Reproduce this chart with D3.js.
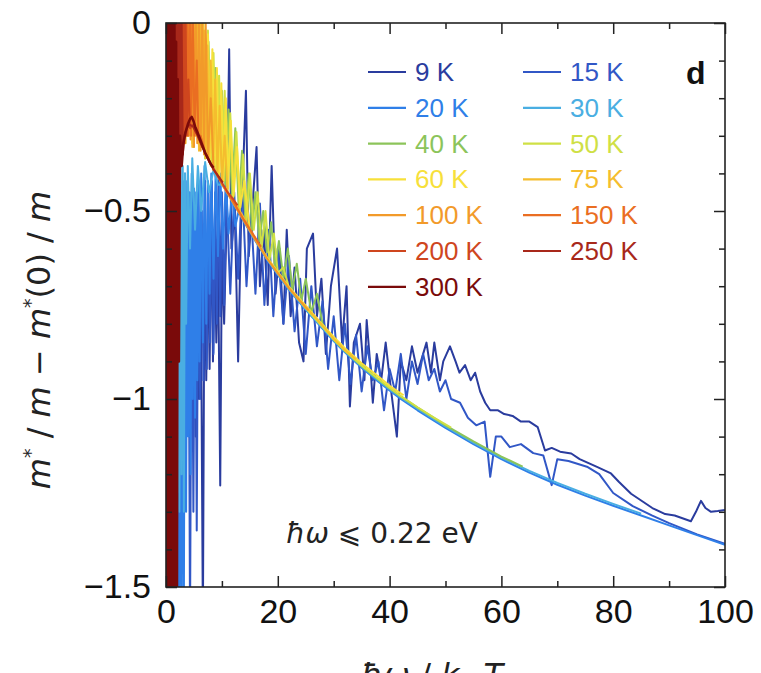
<!DOCTYPE html>
<html><head><meta charset="utf-8">
<script src="https://cdn.jsdelivr.net/npm/d3@7"></script>
<style>body{margin:0;background:#fff}svg{display:block}</style>
</head><body><svg id="c" width="761" height="673"></svg>
<script>
// Effective-mass renormalisation versus reduced frequency, one curve per temperature
const temps = [9, 15, 20, 30, 40, 50, 60, 75, 100, 150, 200, 250, 300];
const lineColors = ["#2a3c9e", "#3157c6", "#2f7fe8", "#4aaee2", "#8cc45a", "#cfe045", "#f7e03a",
                    "#f5bd2e", "#f29a2a", "#ea6e22", "#cf461e", "#a8281a", "#7a0a0a"];
const xTicks = [0, 20, 40, 60, 80, 100];
const yTicks = [0, -0.5, -1, -1.5];

// [ħω/kBT, m*/m − m*(0)/m]
const s9K = [[5.0,-0.6],[5.3,-1.1],[5.6,-0.55],[5.9,-1.0],[6.2,-0.6],[6.6,-1.6],[6.9,-0.55],[7.2,-0.95],[7.5,-0.6],[7.8,-0.92],[8.1,-0.5],[8.4,-0.9],[8.7,-0.55],[9.0,-0.85],[9.3,-0.6],[9.7,-1.23],[10.0,-0.6],[10.4,-0.8],[10.8,-0.55],[11.3,-0.07],[11.7,-0.6],[12.3,-0.5],[12.9,-0.9],[13.4,-0.55],[14.3,-0.18],[14.8,-0.62],[15.4,-0.5],[16.2,-0.33],[16.8,-0.7],[17.5,-0.55],[18.2,-0.75],[18.9,-0.38],[19.6,-0.72],[20.3,-0.6],[21.0,-0.8],[21.6,-0.55],[22.3,-0.78],[23.0,-0.65],[23.8,-0.85],[24.6,-0.9],[25.2,-0.6],[26.3,-0.56],[27.0,-0.78],[27.8,-0.68],[28.6,-0.88],[29.5,-0.7],[30.6,-0.6],[31.5,-0.85],[32.3,-0.7],[32.9,-1.02],[33.6,-0.85],[34.7,-0.8],[35.5,-0.95],[35.9,-0.79],[36.6,-0.92],[37.0,-1.01],[37.7,-0.88],[38.5,-0.95],[39.3,-0.85],[40.2,-0.97],[41.3,-1.10],[42.0,-0.9],[43.0,-0.95],[44.0,-0.86],[45.0,-0.93],[46.0,-0.88],[46.6,-0.85],[47.4,-0.93],[48.0,-0.85],[49.0,-0.95],[49.6,-0.90],[50.8,-0.86],[51.8,-0.9],[52.5,-0.93],[53.5,-0.91],[54.5,-0.95],[55.3,-0.93],[56.2,-0.98],[57.1,-1.01],[58.0,-1.03],[59.4,-1.03],[60.5,-1.04],[62,-1.045],[63.5,-1.06],[65,-1.06],[66.5,-1.075],[67.8,-1.137],[69,-1.13],[70.5,-1.14],[72.5,-1.145],[74,-1.16],[75.5,-1.17],[77,-1.18],[79.6,-1.198],[81,-1.22],[83.2,-1.252],[85,-1.27],[87,-1.29],[89.3,-1.306],[91,-1.31],[93.9,-1.325],[94.8,-1.30],[95.7,-1.271],[96.5,-1.29],[97.5,-1.30],[98.7,-1.298],[100,-1.295]];
const s15K = [[4.0,-0.5],[4.3,-1.6],[4.6,-0.55],[4.9,-1.3],[5.2,-0.5],[5.5,-1.35],[5.8,-0.45],[6.1,-1.0],[6.4,-0.5],[6.7,-0.95],[7.0,-0.42],[7.3,-0.92],[7.6,-0.45],[7.9,-0.85],[8.2,-0.42],[8.5,-0.88],[8.8,-0.45],[9.1,-0.8],[9.4,-0.4],[9.7,-0.78],[10.0,-0.45],[10.4,-0.75],[10.8,-0.45],[11.5,-0.72],[12.2,-0.45],[12.9,-0.68],[13.6,-0.42],[14.4,-0.7],[15.2,-0.5],[16.0,-0.72],[16.8,-0.48],[17.6,-0.75],[18.4,-0.55],[19.2,-0.78],[20.0,-0.6],[21.0,-0.8],[22.0,-0.62],[23.0,-0.82],[24.0,-0.68],[25.0,-0.88],[26.0,-0.7],[27.0,-0.86],[28.0,-0.74],[29.0,-0.92],[30.0,-0.78],[31.0,-0.95],[32.0,-0.8],[33.0,-0.96],[34.0,-0.83],[35.0,-0.98],[36.0,-0.86],[37.0,-0.95],[38.0,-0.9],[39.0,-1.03],[40.0,-0.92],[41.0,-0.98],[42.0,-0.88],[43.0,-1.0],[44.0,-0.9],[45.0,-0.96],[46.0,-0.88],[47.0,-0.95],[48.0,-0.92],[49.0,-0.98],[50.0,-0.95],[51.0,-1.0],[52.6,-1.01],[54.0,-1.05],[55.5,-1.07],[57.0,-1.06],[58.0,-1.207],[59.0,-1.10],[60.0,-1.10],[61.5,-1.128],[63.5,-1.12],[65.7,-1.144],[67.5,-1.15],[69.0,-1.229],[70.0,-1.16],[72.0,-1.165],[75.3,-1.18],[77.5,-1.2],[80.0,-1.25],[83.5,-1.285],[87,-1.31],[90,-1.33],[95,-1.36],[100,-1.385]];
const s20K = [[1.0,-0.45],[1.2,-1.6],[1.4,-0.5],[1.6,-1.6],[1.8,-0.45],[2.0,-1.6],[2.2,-0.5],[2.4,-1.6],[2.6,-0.45],[2.8,-1.6],[3.0,-0.42],[3.2,-1.55],[3.4,-0.4],[3.6,-1.3],[3.8,-0.42],[4.0,-1.1],[4.2,-0.45],[4.4,-1.2],[4.6,-0.4],[4.8,-1.0],[5.0,-0.44],[5.2,-1.05],[5.4,-0.45],[5.6,-0.95],[5.8,-0.42],[6.0,-0.9],[6.3,-0.4],[6.6,-0.85],[6.9,-0.38],[7.2,-0.8],[7.5,-0.42],[7.8,-0.72],[8.1,-0.4],[8.5,-0.68],[8.9,-0.38],[9.3,-0.62],[9.7,-0.4],[10.2,-0.6],[10.7,-0.42],[11.2,-0.56],[11.8,-0.45],[12.4,-0.54],[13,-0.5],[14,-0.53],[16,-0.58],[18,-0.628],[20,-0.67],[22,-0.71],[25,-0.763],[28,-0.813],[30,-0.846],[32,-0.876],[35,-0.917],[38,-0.954],[40,-0.977],[42,-1.0],[45,-1.03],[48,-1.058],[50,-1.077],[55,-1.12],[60,-1.16],[65,-1.196],[70,-1.228],[75,-1.257],[80,-1.284],[85,-1.31],[90,-1.336],[95,-1.362],[100,-1.388]];
const s30K = [[1.8,-0.36],[2.0,-1.25],[2.2,-0.36],[2.4,-1.3],[2.6,-0.38],[2.8,-1.2],[3.0,-0.38],[3.2,-1.3],[3.4,-0.4],[3.6,-0.8],[3.9,-0.38],[4.3,-0.6],[4.7,-0.36],[5.2,-0.55],[5.7,-0.38],[6.3,-0.5],[7.0,-0.37],[7.7,-0.45],[8.5,-0.39],[9.3,-0.43],[10,-0.43],[11,-0.45],[12,-0.478],[14,-0.528],[16,-0.578],[18,-0.626],[20,-0.668],[22,-0.708],[25,-0.761],[28,-0.811],[30,-0.844],[32,-0.874],[35,-0.914],[38,-0.951],[40,-0.974],[42,-0.996],[45,-1.026],[48,-1.054],[50,-1.073],[55,-1.116],[60,-1.156],[65,-1.191],[70,-1.223],[75,-1.252],[80,-1.279],[85,-1.305]];
const s40K = [[5.5,0.05],[6.0,-0.33],[6.5,0.02],[7.0,-0.36],[7.6,-0.05],[8.2,-0.38],[8.8,-0.12],[9.4,-0.4],[10,-0.18],[10.6,-0.43],[11.2,-0.23],[11.8,-0.46],[12.4,-0.28],[13,-0.49],[13.6,-0.34],[14.2,-0.52],[14.8,-0.4],[15.4,-0.55],[16,-0.45],[16.7,-0.58],[17.4,-0.5],[18.1,-0.61],[18.8,-0.53],[19.5,-0.65],[20.2,-0.58],[21,-0.68],[21.8,-0.6],[22.6,-0.71],[23.4,-0.64],[24.2,-0.74],[25,-0.68],[26,-0.77],[27,-0.72],[28,-0.8],[30,-0.842],[32,-0.872],[35,-0.912],[38,-0.948],[40,-0.971],[42,-0.993],[45,-1.023],[48,-1.051],[50,-1.07],[55,-1.113],[60,-1.153],[63.8,-1.18]];
const s50K = [[4.5,0.05],[5.0,-0.33],[5.5,0.05],[6.0,-0.33],[6.5,0.03],[7.0,-0.36],[7.5,-0.02],[8.0,-0.38],[8.5,-0.08],[9.0,-0.4],[9.5,-0.14],[10,-0.42],[10.5,-0.18],[11,-0.45],[11.5,-0.24],[12,-0.47],[12.6,-0.29],[13.2,-0.5],[13.8,-0.35],[14.4,-0.53],[15.0,-0.4],[15.7,-0.55],[16.4,-0.45],[17.1,-0.6],[17.8,-0.5],[18.5,-0.63],[19.3,-0.56],[20,-0.665],[21,-0.65],[22,-0.705],[25,-0.758],[28,-0.808],[30,-0.841],[32,-0.871],[35,-0.911],[38,-0.947],[40,-0.97],[42,-0.992],[45,-1.022],[48,-1.05],[51,-1.076]];
const s60K = [[3.5,0.05],[3.9,-0.3],[4.3,0.05],[4.7,-0.32],[5.1,0.05],[5.5,-0.3],[5.9,0.05],[6.3,-0.33],[6.7,0.0],[7.1,-0.35],[7.5,-0.03],[7.9,-0.37],[8.3,-0.07],[8.7,-0.39],[9.1,-0.12],[9.5,-0.41],[9.9,-0.16],[10.3,-0.42],[10.7,-0.2],[11.1,-0.44],[11.6,-0.26],[12.1,-0.46],[12.7,-0.33],[13.3,-0.49],[14,-0.42],[15,-0.55],[16,-0.575],[18,-0.622],[20,-0.662],[22,-0.702],[25,-0.752],[28,-0.802],[30,-0.835],[32,-0.865],[35,-0.905],[38,-0.94],[40,-0.965],[42.5,-0.99]];
const s75K = [[2.6,0.05],[2.9,-0.3],[3.2,0.05],[3.5,-0.32],[3.8,0.05],[4.1,-0.3],[4.4,0.05],[4.7,-0.33],[5.0,0.03],[5.3,-0.3],[5.6,0.02],[5.9,-0.34],[6.2,0.0],[6.5,-0.33],[6.8,-0.02],[7.1,-0.36],[7.4,-0.06],[7.7,-0.37],[8.0,-0.1],[8.4,-0.39],[8.8,-0.15],[9.2,-0.4],[9.6,-0.22],[10,-0.43],[10.5,-0.3],[11,-0.45],[12,-0.47],[14,-0.52],[16,-0.575],[18,-0.625],[20,-0.665],[22,-0.705],[25,-0.755],[28,-0.805],[30,-0.84],[32,-0.87],[34,-0.895]];
const s100K = [[2.3,0.05],[2.6,-0.3],[2.9,0.05],[3.2,-0.32],[3.5,0.05],[3.8,-0.3],[4.1,0.05],[4.4,-0.31],[4.7,0.05],[5.0,-0.33],[5.3,0.05],[5.6,-0.32],[5.9,0.05],[6.2,-0.34],[6.5,0.03],[6.8,-0.35],[7.1,0.0],[7.5,-0.36],[8,-0.2],[8.5,-0.385],[9,-0.4],[10,-0.428],[12,-0.478],[14,-0.528],[16,-0.578],[18,-0.625],[20,-0.665],[22,-0.705],[24,-0.74],[25.5,-0.765]];
const s150K = [[1.8,0.05],[2.0,-0.3],[2.3,0.05],[2.5,-0.28],[2.8,0.05],[3.0,-0.3],[3.3,0.05],[3.5,-0.29],[3.8,0.05],[4.0,-0.3],[4.3,0.05],[4.5,-0.3],[4.8,0.03],[5.1,-0.3],[5.5,-0.1],[5.8,-0.3],[6.2,-0.3],[7,-0.345],[8,-0.375],[9,-0.4],[10,-0.425],[12,-0.475],[14,-0.525],[15.5,-0.56],[17,-0.595]];
const s200K = [[1.5,0.05],[1.7,-0.35],[1.9,0.05],[2.1,-0.35],[2.3,0.05],[2.5,-0.33],[2.7,0.05],[2.9,-0.33],[3.1,0.05],[3.3,-0.32],[3.5,0.02],[3.7,-0.3],[4.0,-0.15],[4.3,-0.28],[4.8,-0.27],[5.3,-0.285],[6,-0.31],[7,-0.345],[8,-0.375],[9,-0.4],[10,-0.425],[11,-0.45],[12,-0.468],[12.8,-0.485]];
const s250K = [[1.2,0.05],[1.4,-0.4],[1.6,0.05],[1.8,-0.4],[2.0,0.05],[2.2,-0.38],[2.4,0.05],[2.6,-0.36],[2.8,0.0],[3.0,-0.35],[3.3,-0.3],[3.7,-0.28],[4.2,-0.27],[4.8,-0.275],[5.5,-0.295],[6.5,-0.33],[7.5,-0.36],[8.5,-0.39],[9.5,-0.41],[10.2,-0.425]];
const s300K = [[0,0.05],[0.15,-1.6],[0.3,0.05],[0.45,-1.6],[0.6,0.05],[0.75,-1.6],[0.9,0.05],[1.05,-1.6],[1.2,0.05],[1.35,-1.6],[1.5,0.05],[1.65,-1.6],[1.8,-0.05],[1.95,-1.6],[2.1,-0.15],[2.3,-0.9],[2.5,-0.3],[2.8,-0.38],[3.1,-0.32],[3.5,-0.29],[3.9,-0.27],[4.3,-0.255],[4.6,-0.25],[4.9,-0.26],[5.2,-0.275],[5.6,-0.29],[6.0,-0.305],[6.5,-0.325],[7.0,-0.345],[7.5,-0.36],[8.0,-0.375],[8.5,-0.385]];

const seriesList = [s9K, s15K, s20K, s30K, s40K, s50K, s60K, s75K, s100K, s150K, s200K, s250K, s300K];

const svg = d3.select("#c");
const L = 166, R = 725, T = 23, B = 587;
const x = d3.scaleLinear().domain([0, 100]).range([L, R]);
const y = d3.scaleLinear().domain([-1.5, 0]).range([B, T]);

svg.append("defs").append("clipPath").attr("id", "plotClip")
  .append("rect").attr("x", L).attr("y", T).attr("width", R - L).attr("height", B - T);

const line = d3.line().x(d => x(d[0])).y(d => y(d[1]));
const curves = svg.append("g").attr("clip-path", "url(#plotClip)");
seriesList.forEach((s, i) => {
  curves.append("path").datum(s)
    .attr("d", line)
    .attr("fill", "none")
    .attr("stroke", lineColors[i])
    .attr("stroke-width", i === 12 ? 2.6 : 2)
    .attr("stroke-linejoin", "round");
});

// frame, inward ticks
const axisColor = "#222";
const fontTicks = "'Liberation Sans', Arial, sans-serif";
function styleAxis(g) {
  g.select(".domain").remove();
  g.selectAll(".tick line").attr("stroke", axisColor).attr("stroke-width", 1.5);
  g.selectAll("text").attr("font-family", fontTicks).attr("font-size", 34).attr("fill", "#111");
}
const fmt = d => d === 0 ? "0" : d3.format("")(d).replace("-", "\u2212");

svg.append("g").attr("transform", `translate(0,${B})`)
  .call(d3.axisBottom(x).tickValues(xTicks).tickSize(-11).tickPadding(12).tickFormat(fmt)).call(styleAxis);
svg.append("g").attr("transform", `translate(0,${B})`)
  .call(d3.axisBottom(x).tickValues([10, 30, 50, 70, 90]).tickSize(-6).tickFormat("")).call(styleAxis);
svg.append("g").attr("transform", `translate(0,${T})`)
  .call(d3.axisTop(x).tickValues(xTicks).tickSize(-11).tickFormat("")).call(styleAxis);
svg.append("g").attr("transform", `translate(0,${T})`)
  .call(d3.axisTop(x).tickValues([10, 30, 50, 70, 90]).tickSize(-6).tickFormat("")).call(styleAxis);

const yMinor = d3.range(1, 15).filter(k => k % 5 !== 0).map(k => -k / 10);
svg.append("g").attr("transform", `translate(${L},0)`)
  .call(d3.axisLeft(y).tickValues(yTicks).tickSize(-11).tickPadding(15).tickFormat(fmt)).call(styleAxis);
svg.append("g").attr("transform", `translate(${L},0)`)
  .call(d3.axisLeft(y).tickValues(yMinor).tickSize(-6).tickFormat("")).call(styleAxis);
svg.append("g").attr("transform", `translate(${R},0)`)
  .call(d3.axisRight(y).tickValues(yTicks).tickSize(-11).tickFormat("")).call(styleAxis);
svg.append("g").attr("transform", `translate(${R},0)`)
  .call(d3.axisRight(y).tickValues(yMinor).tickSize(-6).tickFormat("")).call(styleAxis);

svg.append("rect").attr("x", L).attr("y", T).attr("width", R - L).attr("height", B - T)
  .attr("fill", "none").attr("stroke", axisColor).attr("stroke-width", 1.6);

// legend, two columns
const legendCols = [[9, 20, 40, 60, 100, 200, 300], [15, 30, 50, 75, 150, 250]];
const colX = [368, 523];
const legend = svg.append("g");
legendCols.forEach((col, c) => {
  col.forEach((t, r) => {
    const color = lineColors[temps.indexOf(t)];
    const yy = 72 + r * 35.8;
    legend.append("line").attr("x1", colX[c]).attr("x2", colX[c] + 38)
      .attr("y1", yy).attr("y2", yy).attr("stroke", color).attr("stroke-width", 2.2);
    legend.append("text").attr("x", colX[c] + 47).attr("y", yy + 9)
      .attr("font-family", fontTicks).attr("font-size", 26).attr("fill", color)
      .text(t + " K");
  });
});

svg.append("text").attr("x", 686).attr("y", 84).attr("font-family", fontTicks)
  .attr("font-size", 32).attr("font-weight", "bold").attr("fill", "#111").text("d");

// frequency cut-off note
const note = svg.append("text").attr("x", 286).attr("y", 543)
  .attr("font-family", "'DejaVu Sans', sans-serif").attr("font-size", 28).attr("fill", "#222");
note.append("tspan").attr("font-style", "italic").text("ħω");
note.append("tspan").text(" ⩽ 0.22 eV");

// axis titles
const yl = svg.append("text").attr("transform", "translate(50,340) rotate(-90)")
  .attr("text-anchor", "middle").attr("font-family", "'DejaVu Sans', sans-serif")
  .attr("font-size", 32).attr("fill", "#222");
yl.append("tspan").attr("font-style", "italic").text("m");
yl.append("tspan").attr("font-size", 19).attr("dy", -13).text("*");
yl.append("tspan").attr("dy", 13).text(" / ");
yl.append("tspan").attr("font-style", "italic").text("m");
yl.append("tspan").text(" − ");
yl.append("tspan").attr("font-style", "italic").text("m");
yl.append("tspan").attr("font-size", 19).attr("dy", -13).text("*");
yl.append("tspan").attr("dy", 13).text("(0) / ");
yl.append("tspan").attr("font-style", "italic").text("m");

const xl = svg.append("text").attr("x", 432).attr("y", 686).attr("text-anchor", "middle")
  .attr("font-family", "'DejaVu Sans', sans-serif").attr("font-size", 32).attr("fill", "#222");
xl.append("tspan").attr("font-style", "italic").text("ħω");
xl.append("tspan").text(" / ");
xl.append("tspan").attr("font-style", "italic").text("k");
xl.append("tspan").attr("font-size", 20).attr("dy", 6).text("B");
xl.append("tspan").attr("dy", -6).attr("font-style", "italic").text(" T");
</script></body></html>
